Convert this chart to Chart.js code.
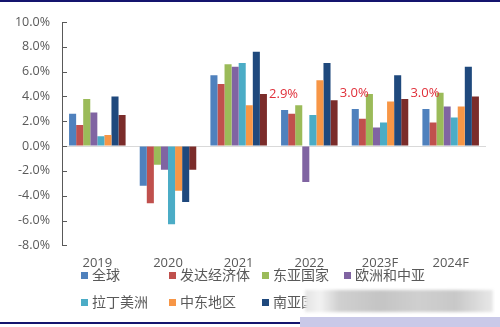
<!DOCTYPE html>
<html>
<head>
<meta charset="utf-8">
<script src="https://cdn.jsdelivr.net/npm/chart.js@4.4.1/dist/chart.umd.min.js"></script>
<style>
    html, body { margin: 0; padding: 0; background: #fff; }
    #wrap { position: relative; width: 500px; height: 327px; overflow: hidden; }
    #chart { position: absolute; left: 0; top: 0; }
    .topline { position: absolute; left: 0; top: 0; width: 500px; height: 2px; background: #14146e; }
    .botline { position: absolute; left: 0; top: 322px; width: 300px; height: 2px; background: #14146e; }
    .botband { position: absolute; left: 300px; top: 317px; width: 200px; height: 10px; background: #c9c9e8; }
    .legend { position: absolute; left: 0; top: 0; font-family: "Noto Sans CJK SC", sans-serif; font-size: 14px; color: #595959; }
    .item { position: absolute; height: 18px; line-height: 18px; white-space: nowrap; }
    .item i { display: inline-block; width: 7px; height: 7px; margin-right: 4px; vertical-align: 1px; }
    .blur { position: absolute; left: 305px; top: 290px; width: 188px; height: 22px;
        background: linear-gradient(90deg, #e4e4e4 0%, #f2f2f2 8%, #d0d0d0 18%, #c4c4c4 40%, #cfcfcf 60%, #c8c8c8 80%, #e8e8e8 100%);
        filter: blur(1.5px); }
</style>
</head>
<body>
<div id="wrap">
    <canvas id="chart" width="500" height="327"></canvas>
    <div class="legend" id="legend"></div>
    <div class="blur"></div>
    <div class="topline"></div>
    <div class="botline"></div>
    <div class="botband"></div>
</div>
<script>
    var years = ['2019', '2020', '2021', '2022', '2023F', '2024F'];
    var seriesNames = ['全球', '发达经济体', '东亚国家', '欧洲和中亚', '拉丁美洲', '中东地区', '南亚国家', '撒哈拉以南非洲'];
    var colors = ['#4F81BD', '#C0504D', '#9BBB59', '#8064A2', '#4BACC6', '#F79646', '#1F497D', '#7B2C2A'];

    var world     = [2.6, -3.2, 5.7, 2.9, 3.0, 3.0];
    var advanced  = [1.7, -4.6, 5.0, 2.6, 2.2, 1.9];
    var eastAsia  = [3.8, -1.5, 6.6, 3.3, 4.2, 4.3];
    var europe    = [2.7, -1.9, 6.4, -2.9, 1.5, 3.2];
    var latam     = [0.8, -6.3, 6.7, 2.5, 1.9, 2.3];
    var mideast   = [0.9, -3.6, 3.3, 5.3, 3.6, 3.2];
    var southAsia = [4.0, -4.5, 7.6, 6.7, 5.7, 6.4];
    var africa    = [2.5, -1.9, 4.2, 3.7, 3.8, 4.0];

    // red labels over the world bar
    var worldLabels = ['', '', '', '2.9%', '3.0%', '3.0%'];

    var allSeries = [world, advanced, eastAsia, europe, latam, mideast, southAsia, africa];

    var datasets = allSeries.map(function(d, i) {
        return {
            label: seriesNames[i],
            data: d,
            backgroundColor: colors[i],
            borderWidth: 0,
            barPercentage: 1.0,
            categoryPercentage: 0.8
        };
    });

    // legend, Excel style columns
    var legX = [81, 169, 262, 344];
    var legY = [265, 292];
    var legHtml = '';
    seriesNames.forEach(function(name, i) {
        legHtml += '<div class="item" style="left:' + legX[i % 4] + 'px;top:' + legY[Math.floor(i / 4)] + 'px;">' +
            '<i style="background:' + colors[i] + '"></i>' + name + '</div>';
    });
    document.getElementById('legend').innerHTML = legHtml;

    var extras = {
        id: 'extras',
        afterDatasetsDraw: function(chart) {
            var ctx = chart.ctx;
            var area = chart.chartArea;
            var y = chart.scales.y;
            ctx.save();
            // inside tick marks on the y axis
            ctx.strokeStyle = '#595959';
            ctx.lineWidth = 1;
            y.ticks.forEach(function(t) {
                var py = Math.round(y.getPixelForValue(t.value)) + 0.5;
                ctx.beginPath();
                ctx.moveTo(area.left, py);
                ctx.lineTo(area.left + 5, py);
                ctx.stroke();
            });
            // value labels
            var meta = chart.getDatasetMeta(0);
            ctx.fillStyle = '#E0303A';
            ctx.font = '13px "Open Sans"';
            ctx.textAlign = 'center';
            ctx.textBaseline = 'middle';
            worldLabels.forEach(function(txt, i) {
                if (!txt) return;
                var bar = meta.data[i];
                ctx.fillText(txt, bar.x - 1, y.getPixelForValue(world[i]) - 16);
            });
            ctx.restore();
        }
    };

    new Chart(document.getElementById('chart'), {
        type: 'bar',
        data: { labels: years, datasets: datasets },
        options: {
            responsive: false,
            animation: false,
            layout: { padding: { left: 8, right: 14, top: 22, bottom: 46 } },
            scales: {
                y: {
                    min: -8,
                    max: 10,
                    ticks: {
                        stepSize: 2,
                        padding: 12,
                        color: '#595959',
                        font: { family: 'Open Sans', size: 12.5 },
                        callback: function(v) { return v.toFixed(1) + '%'; }
                    },
                    grid: {
                        drawTicks: false,
                        color: function(c) { return c.tick && c.tick.value === 0 ? '#D9D9D9' : 'rgba(0,0,0,0)'; }
                    },
                    border: { display: true, color: '#595959' },
                    afterFit: function(s) { s.width = 54; }
                },
                x: {
                    grid: { display: false, drawTicks: false },
                    border: { display: false },
                    ticks: {
                        padding: 10,
                        color: '#595959',
                        font: { family: 'Open Sans', size: 13 }
                    }
                }
            },
            plugins: {
                legend: { display: false },
                tooltip: { enabled: false }
            }
        },
        plugins: [extras]
    });
</script>
</body>
</html>
